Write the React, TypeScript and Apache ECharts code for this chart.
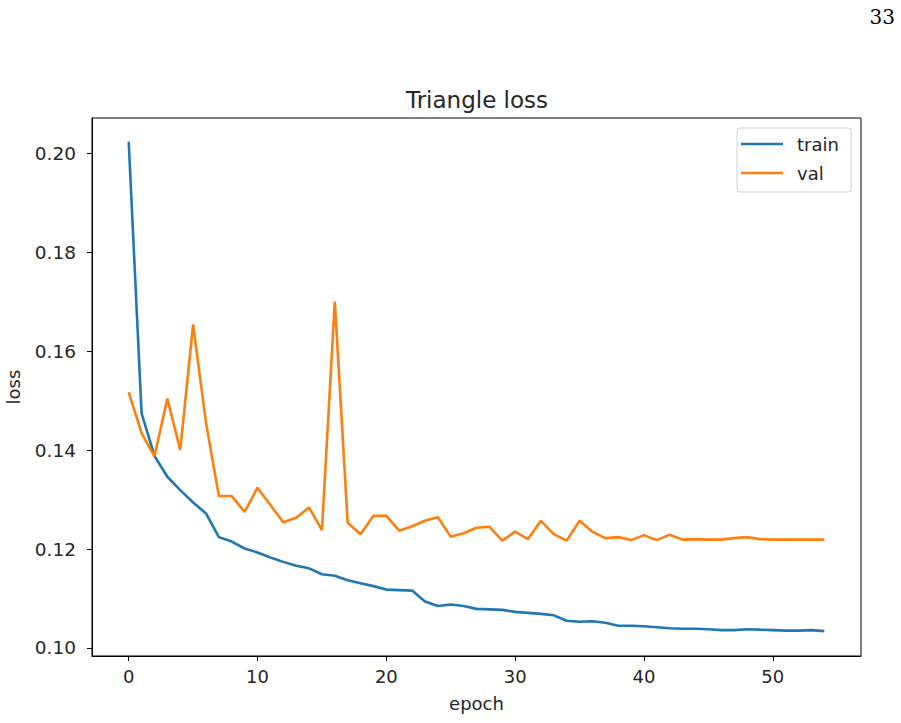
import React, { useEffect, useRef } from "react";
import * as echarts from "echarts";

const epochs: number[] = Array.from({ length: 55 }, (_, i) => i);

const trainLoss: number[] = [
  0.2023, 0.1474, 0.1388, 0.1346, 0.1319, 0.1294, 0.1272, 0.1224, 0.1215, 0.1201,
  0.1193, 0.1183, 0.1174, 0.1166, 0.1161, 0.1149, 0.1146, 0.1137, 0.1131, 0.1125,
  0.1118, 0.1117, 0.1116, 0.1094, 0.1085, 0.1088, 0.1085, 0.1079, 0.1078, 0.1077,
  0.1073, 0.1071, 0.1069, 0.1066, 0.1055, 0.1053, 0.1054, 0.1051, 0.1045, 0.1045,
  0.1044, 0.1042, 0.1040, 0.1039, 0.1039, 0.1038, 0.1036, 0.1036, 0.1038, 0.1037,
  0.1036, 0.1035, 0.1035, 0.1036, 0.1034,
];

const valLoss: number[] = [
  0.1517, 0.1434, 0.1387, 0.1504, 0.1400, 0.1654, 0.1455, 0.1307, 0.1307, 0.1275,
  0.1324, 0.1289, 0.1254, 0.1263, 0.1284, 0.1238, 0.1700, 0.1253, 0.1230, 0.1267,
  0.1267, 0.1237, 0.1246, 0.1257, 0.1264, 0.1225, 0.1232, 0.1243, 0.1245, 0.1217,
  0.1235, 0.1220, 0.1257, 0.1230, 0.1217, 0.1257, 0.1235, 0.1222, 0.1224, 0.1218,
  0.1228, 0.1218, 0.1229, 0.1219, 0.1220, 0.1219, 0.1219, 0.1222, 0.1224, 0.1220,
  0.1219, 0.1219, 0.1219, 0.1219, 0.1219,
];

const xTicks: number[] = [0, 10, 20, 30, 40, 50];
const yTicks: number[] = [0.1, 0.12, 0.14, 0.16, 0.18, 0.2];

const seriesNames = ["train", "val"];
const colors = ["#1f77b4", "#ff7f0e"];

export default function App() {
  const ref = useRef<HTMLDivElement>(null);

  useEffect(() => {
    if (!ref.current) return;
    const chart = echarts.init(ref.current, undefined, { renderer: "svg" });
    const font = "DejaVu Sans";
    const option: any = {
      animation: false,
      backgroundColor: "#ffffff",
      title: {
        text: "Triangle loss",
        left: 472,
        top: 83,
        textAlign: "center",
        textStyle: { fontFamily: font, fontSize: 23, fontWeight: "normal", color: "#262626" },
      },
      grid: {
        left: 92,
        right: 40,
        top: 118,
        bottom: 67,
        containLabel: false,
        outerBoundsMode: "none",
        show: true,
        borderColor: "#000",
        borderWidth: 1,
        backgroundColor: "transparent",
      },
      xAxis: {
        type: "value",
        min: -2.85,
        max: 56.85,
        name: "epoch",
        nameLocation: "middle",
        nameGap: 38,
        nameTextStyle: { fontFamily: font, fontSize: 18, color: "#262626" },
        axisLine: { show: true, onZero: false, lineStyle: { color: "#000", width: 1 } },
        axisTick: { show: true, length: 5, lineStyle: { color: "#000" }, customValues: xTicks },
        axisLabel: {
          fontFamily: font,
          fontSize: 18,
          color: "#262626",
          margin: 11,
          customValues: xTicks,
          formatter: (v: number) => String(v),
        },
        splitLine: { show: false },
      },
      yAxis: {
        type: "value",
        min: 0.09838,
        max: 0.2071,
        name: "loss",
        nameLocation: "middle",
        nameGap: 70,
        nameTextStyle: { fontFamily: font, fontSize: 18, color: "#262626" },
        axisLine: { show: true, onZero: false, lineStyle: { color: "#000", width: 1 } },
        axisTick: { show: true, length: 5, lineStyle: { color: "#000" }, customValues: yTicks },
        axisLabel: {
          fontFamily: font,
          fontSize: 18.5,
          color: "#262626",
          margin: 16,
          customValues: yTicks,
          formatter: (v: number) => v.toFixed(2),
        },
        splitLine: { show: false },
      },
      series: [
        {
          name: seriesNames[0],
          type: "line",
          data: epochs.map((e, i) => [e, trainLoss[i]]),
          showSymbol: false,
          symbol: "none",
          lineStyle: { color: colors[0], width: 2.6 },
          itemStyle: { color: colors[0] },
        },
        {
          name: seriesNames[1],
          type: "line",
          data: epochs.map((e, i) => [e, valLoss[i]]),
          showSymbol: false,
          symbol: "none",
          lineStyle: { color: colors[1], width: 2.6 },
          itemStyle: { color: colors[1] },
        },
      ],
      graphic: [
        {
          type: "text",
          right: 6,
          top: 7,
          style: { text: "33", fontFamily: "DejaVu Serif", fontSize: 20, fill: "#000" },
        },
        {
          type: "rect",
          shape: { x: 737, y: 128, width: 114, height: 64, r: 3 },
          style: { fill: "rgba(255,255,255,0.8)", stroke: "#d0d0d0", lineWidth: 1 },
          z: 10,
        },
        {
          type: "line",
          shape: { x1: 741, y1: 144, x2: 783, y2: 144 },
          style: { stroke: colors[0], lineWidth: 2.6 },
          z: 11,
        },
        {
          type: "line",
          shape: { x1: 741, y1: 173, x2: 783, y2: 173 },
          style: { stroke: colors[1], lineWidth: 2.6 },
          z: 11,
        },
        {
          type: "text",
          x: 797,
          y: 144,
          style: { text: seriesNames[0], fontFamily: font, fontSize: 18, fill: "#262626", verticalAlign: "middle" },
          z: 11,
        },
        {
          type: "text",
          x: 797,
          y: 173,
          style: { text: seriesNames[1], fontFamily: font, fontSize: 18, fill: "#262626", verticalAlign: "middle" },
          z: 11,
        },
      ],
    };
    chart.setOption(option);
    return () => chart.dispose();
  }, []);

  return <div ref={ref} style={{ width: 901, height: 723, position: "absolute", left: 0, top: 0 }} />;
}
